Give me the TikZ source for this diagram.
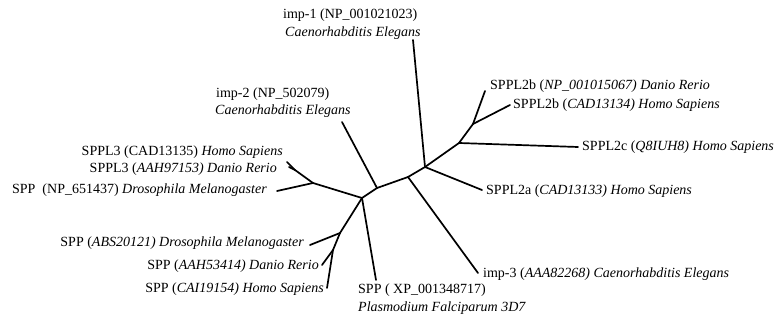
\documentclass[tikz,border=0pt]{standalone}
\usepackage{fontspec}
\setmainfont{Liberation Serif}
\begin{document}
\begin{tikzpicture}[x=1pt,y=-1pt,
  br/.style={line width=1.7pt,line cap=round,line join=round},
  lab/.style={inner sep=0pt,font=\fontsize{14}{16}\selectfont}]
\useasboundingbox (0,0) rectangle (778,320);
% internal nodes
\coordinate (A) at (377,188);
\coordinate (B) at (362,198);
\coordinate (C) at (408,177);
\coordinate (D) at (425,167);
\coordinate (E) at (459,143);
\coordinate (F) at (473,124);
\coordinate (H) at (313,183);
\coordinate (I) at (295,170);
\coordinate (J) at (340,233);
\coordinate (K) at (333,250);
% leaves
\coordinate (l1) at (413,40);
\coordinate (l2) at (342,122);
\coordinate (l3) at (478,273);
\coordinate (l2a) at (482,190);
\coordinate (l2c) at (578,147);
\coordinate (l2bd) at (485,91);
\coordinate (l2bh) at (510,105);
\coordinate (l3h) at (287,162);
\coordinate (l3d) at (289,167);
\coordinate (lnp) at (277,191);
\coordinate (labs) at (310,245);
\coordinate (laah) at (322,265);
\coordinate (lcai) at (327,288);
\coordinate (lxp) at (376,280);
% branches
\draw[br] (A) -- (l2);
\draw[br] (A) -- (B);
\draw[br] (A) -- (C);
\draw[br] (C) -- (l3);
\draw[br] (C) -- (D);
\draw[br] (D) -- (l1);
\draw[br] (D) -- (l2a);
\draw[br] (D) -- (E);
\draw[br] (E) -- (l2c);
\draw[br] (E) -- (F);
\draw[br] (F) -- (l2bd);
\draw[br] (F) -- (l2bh);
\draw[br] (B) -- (H);
\draw[br] (H) -- (lnp);
\draw[br] (H) -- (I);
\draw[br] (I) -- (l3h);
\draw[br] (I) -- (l3d);
\draw[br] (B) -- (J);
\draw[br] (J) -- (labs);
\draw[br] (J) -- (K);
\draw[br] (K) -- (laah);
\draw[br] (K) -- (lcai);
\draw[br] (B) -- (lxp);
% labels
\node[lab,anchor=west] (t1a) at (283,15) {imp-1 (NP\_001021023)};
\node[lab,anchor=west] (t1b) at (285,33) {\itshape Caenorhabditis Elegans};
\node[lab,anchor=west] (t2a) at (216,94) {imp-2 (NP\_502079)};
\node[lab,anchor=west] (t2b) at (215,111) {\itshape Caenorhabditis Elegans};
\node[lab,anchor=east] (t3h) at (283,152) {SPPL3 (CAD13135) \textit{Homo Sapiens}};
\node[lab,anchor=east] (t3d) at (277,169) {SPPL3 (\textit{AAH97153) Danio Rerio}};
\node[lab,anchor=east] (tnp) at (267,190) {SPP\ \ (NP\_651437) \textit{Drosophila Melanogaster}};
\node[lab,anchor=east] (tabs) at (304,243) {SPP (\textit{ABS20121) Drosophila Melanogaster}};
\node[lab,anchor=east] (taah) at (319,266) {SPP (\textit{AAH53414) Danio Rerio}};
\node[lab,anchor=east] (tcai) at (324,289) {SPP (\textit{CAI19154) Homo Sapiens}};
\node[lab,anchor=west] (txa) at (358,290) {SPP ( XP\_001348717)};
\node[lab,anchor=west] (txb) at (358,308) {\itshape Plasmodium Falciparum 3D7};
\node[lab,anchor=west] (ti3) at (483,274) {imp-3 (\textit{AAA82268) Caenorhabditis Elegans}};
\node[lab,anchor=west] (t2a) at (486,191) {SPPL2a (\textit{CAD13133) Homo Sapiens}};
\node[lab,anchor=west] (t2c) at (582,147) {SPPL2c (\textit{Q8IUH8) Homo Sapiens}};
\node[lab,anchor=west] (t2bd) at (490,86) {SPPL2b (\textit{NP\_001015067) Danio Rerio}};
\node[lab,anchor=west] (t2bh) at (513,105) {SPPL2b (\textit{CAD13134) Homo Sapiens}};
\end{tikzpicture}
\end{document}
